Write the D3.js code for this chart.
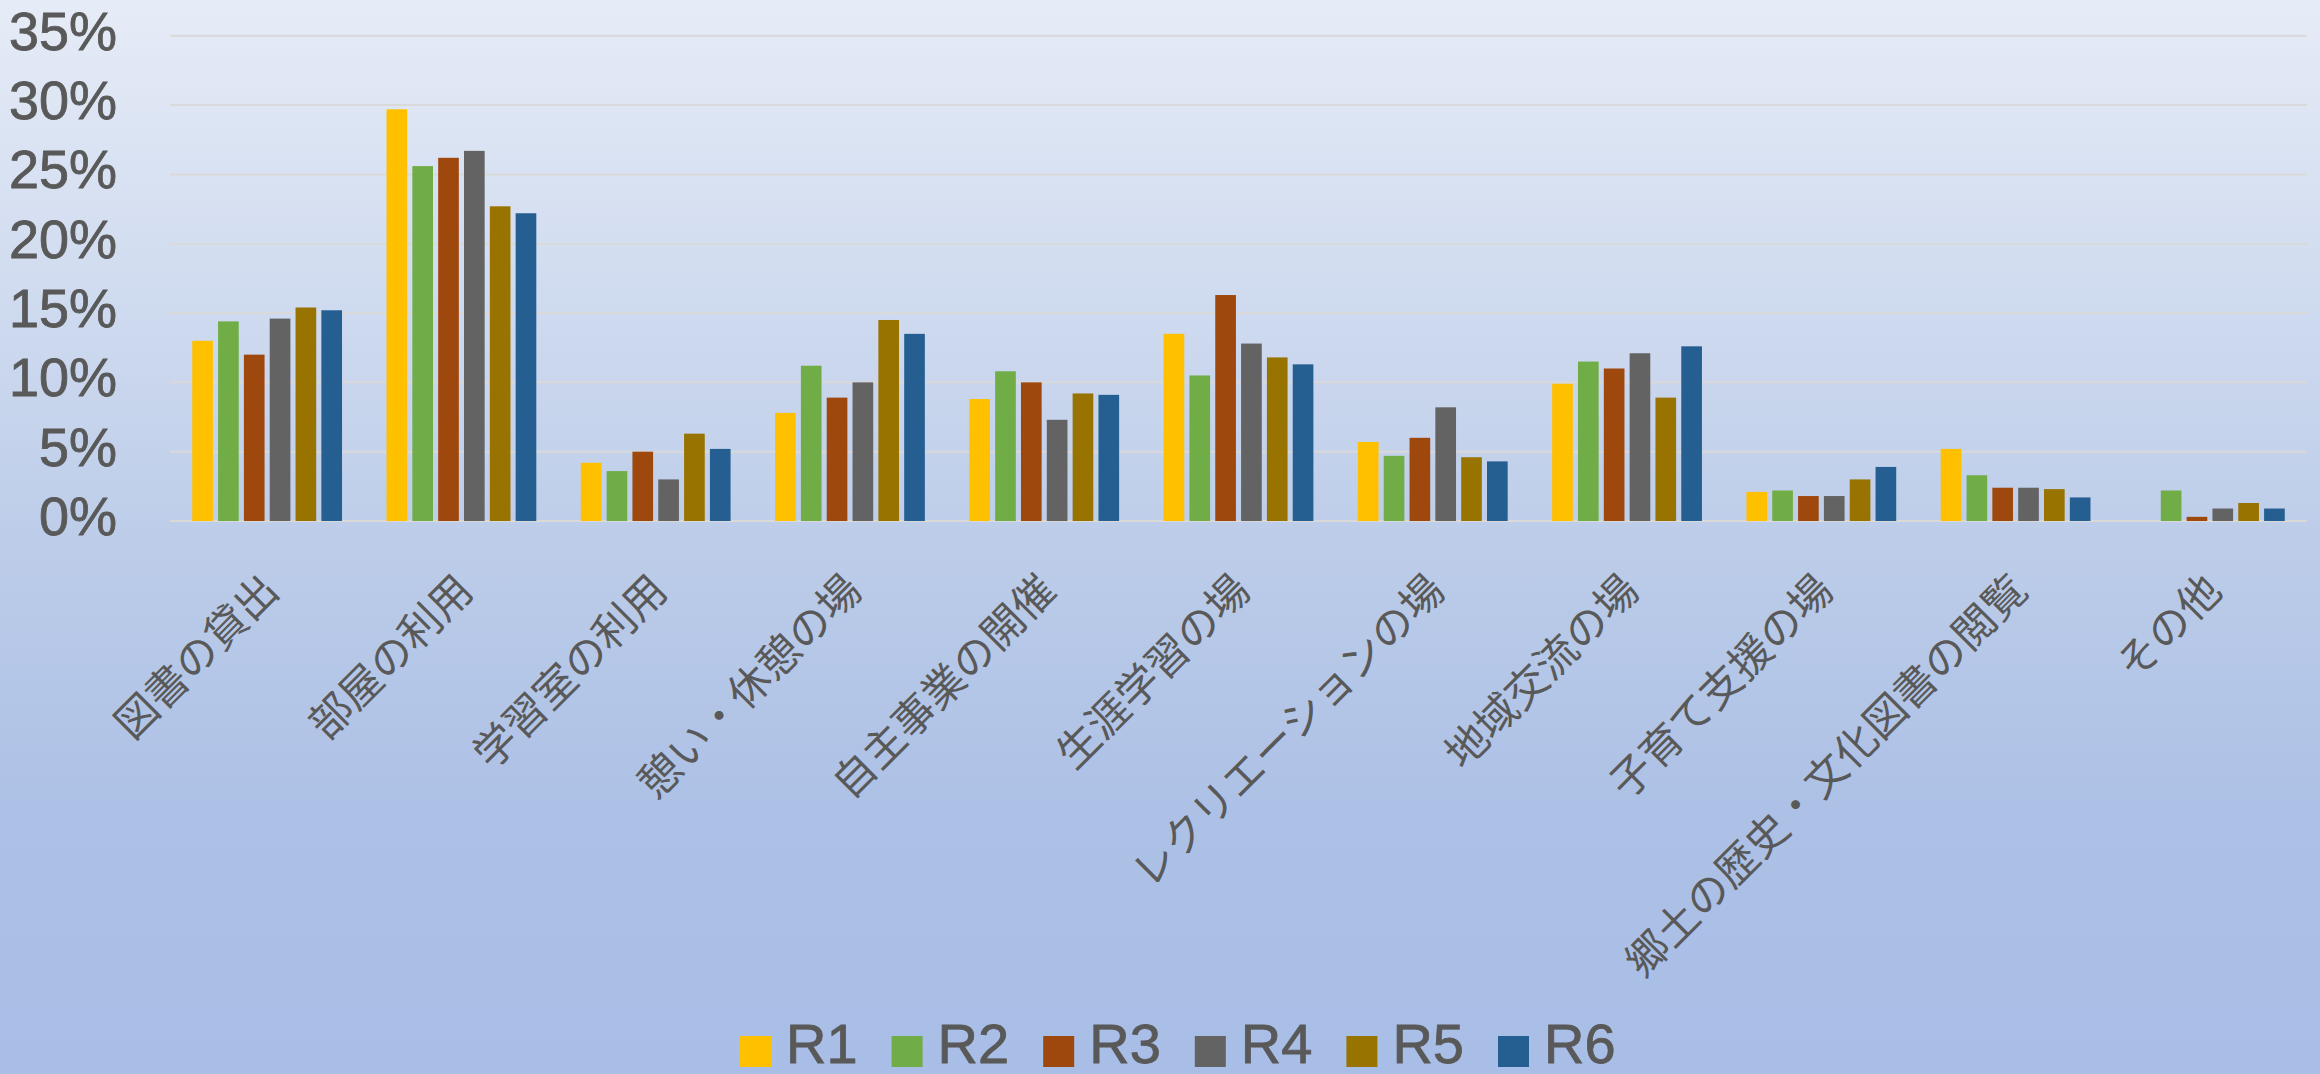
<!DOCTYPE html>
<html><head><meta charset="utf-8">
<script src="https://cdn.jsdelivr.net/npm/d3@7"></script>
<style>html,body{margin:0;padding:0;overflow:hidden;}svg{display:block;}</style>
</head><body>
<script>
const categories = ["図書の貸出","部屋の利用","学習室の利用","憩い・休憩の場","自主事業の開催","生涯学習の場","レクリエーションの場","地域交流の場","子育て支援の場","郷土の歴史・文化図書の閲覧","その他"];
const seriesNames = ["R1","R2","R3","R4","R5","R6"];
const R1 = [13.0, 29.7, 4.2, 7.8, 8.8, 13.5, 5.7, 9.9, 2.1, 5.2, 0.0];
const R2 = [14.4, 25.6, 3.6, 11.2, 10.8, 10.5, 4.7, 11.5, 2.2, 3.3, 2.2];
const R3 = [12.0, 26.2, 5.0, 8.9, 10.0, 16.3, 6.0, 11.0, 1.8, 2.4, 0.3];
const R4 = [14.6, 26.7, 3.0, 10.0, 7.3, 12.8, 8.2, 12.1, 1.8, 2.4, 0.9];
const R5 = [15.4, 22.7, 6.3, 14.5, 9.2, 11.8, 4.6, 8.9, 3.0, 2.3, 1.3];
const R6 = [15.2, 22.2, 5.2, 13.5, 9.1, 11.3, 4.3, 12.6, 3.9, 1.7, 0.9];
const seriesValues = [R1, R2, R3, R4, R5, R6];
const colors = ["#FFC000","#70AD47","#9E480E","#636363","#997300","#255E91"];
const yTicks = [0,5,10,15,20,25,30,35];

const W = 2320, H = 1074;
const svg = d3.select("body").append("svg").attr("width", W).attr("height", H);
const defs = svg.append("defs");
const grad = defs.append("linearGradient").attr("id","bg").attr("x1",0).attr("y1",0).attr("x2",0).attr("y2",1);
grad.append("stop").attr("offset","0%").attr("stop-color","#e6ecf7");
grad.append("stop").attr("offset","50%").attr("stop-color","#bdcde9");
grad.append("stop").attr("offset","75%").attr("stop-color","#adc1e6");
grad.append("stop").attr("offset","100%").attr("stop-color","#a9bee6");
svg.append("rect").attr("width",W).attr("height",H).attr("fill","url(#bg)");

const font = "'Noto Sans CJK JP','Noto Sans',sans-serif";
const numFont = "'Liberation Sans','Noto Sans',sans-serif";
const textColor = "#595959";
const left = 170, right = 2307, y0 = 521, yTop = 35.8;

const x0 = d3.scaleBand().domain(categories).range([left, right]).paddingInner(0.229).paddingOuter(0.1145);
const x1 = d3.scaleBand().domain(seriesNames).range([0, x0.bandwidth()]).paddingInner(0.2).paddingOuter(0);
const y = d3.scaleLinear().domain([0,35]).range([y0, yTop]);

// gridlines
svg.append("g").selectAll("line").data(yTicks).join("line")
  .attr("x1", left).attr("x2", right)
  .attr("y1", d => y(d)).attr("y2", d => y(d))
  .attr("stroke", "#d9d9d9").attr("stroke-width", 2);

// y labels
svg.append("g").selectAll("text").data(yTicks).join("text")
  .attr("x", 117).attr("y", d => y(d) - 5)
  .attr("text-anchor","end").attr("dominant-baseline","central")
  .attr("font-family", numFont).attr("font-size", 54).attr("fill", textColor)
  .attr("stroke", textColor).attr("stroke-width", 0.8)
  .text(d => d + "%");

// bars
const groups = svg.append("g").selectAll("g").data(categories).join("g")
  .attr("transform", d => `translate(${x0(d)},0)`);
groups.selectAll("rect").data((c, ci) => seriesNames.map((s, si) => ({s, v: seriesValues[si][ci], si})))
  .join("rect")
  .attr("x", d => x1(d.s)).attr("width", x1.bandwidth())
  .attr("y", d => y(d.v)).attr("height", d => y0 - y(d.v))
  .attr("fill", d => colors[d.si]);

// category labels
svg.append("g").selectAll("text").data(categories).join("text")
  .attr("transform", d => `translate(${x0(d) + x0.bandwidth()/2 + 1},${y0 + 59}) rotate(-45)`)
  .attr("text-anchor","end").attr("dominant-baseline","central")
  .attr("font-family", font).attr("font-size", 42).attr("fill", textColor)
  .text(d => d);

// legend
const legX = d3.scalePoint().domain(seriesNames).range([740, 1498]);
const leg = svg.append("g").selectAll("g").data(seriesNames).join("g")
  .attr("transform", d => `translate(${legX(d)},0)`);
leg.append("rect").attr("x",0).attr("y",1036).attr("width",31).attr("height",31)
  .attr("fill", (d,i) => colors[i]);
leg.append("text").attr("x", 46).attr("y", 1063)
  .attr("font-family", numFont).attr("font-size", 56).attr("fill", textColor)
  .attr("stroke", textColor).attr("stroke-width", 0.8)
  .text(d => d);
</script>
</body></html>
